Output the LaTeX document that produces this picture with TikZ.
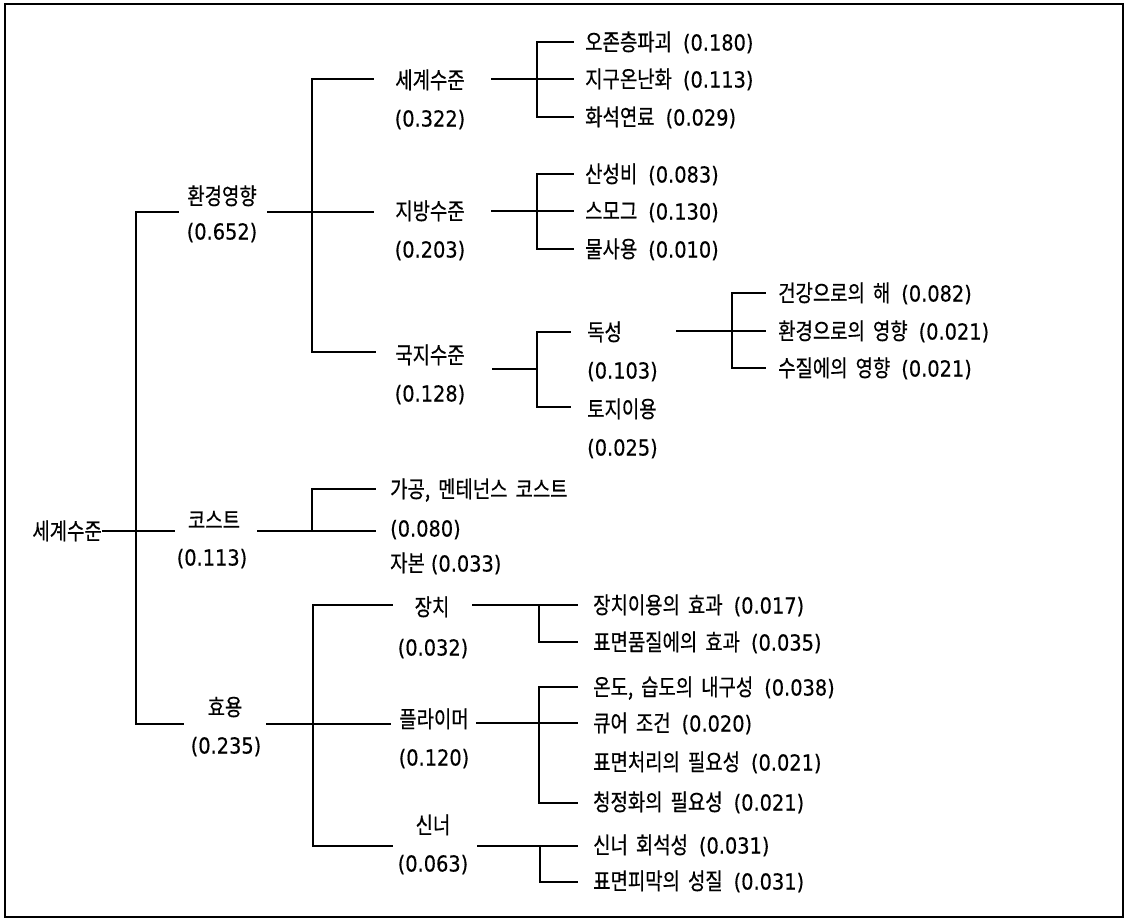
\documentclass[tikz,border=0pt]{standalone}
\usepackage{fontspec}
\setmainfont[FakeStretch=0.82,FakeBold=0.5]{Noto Sans CJK KR}
\newfontfamily\dvf[FakeStretch=0.88,FakeBold=0.3]{DejaVu Sans}
\newcommand\gp{\hspace{11pt}}
\newcommand\ws{\hspace{8pt}}
\newcommand\pv[1]{{\dvf\fontsize{22}{24}\selectfont(#1)}}
\begin{document}
\begin{tikzpicture}[x=1pt,y=-1pt,
  lbl/.style={inner sep=0pt, text height=20pt, text depth=3pt, font=\fontsize{23}{26}\selectfont},
  lw/.style={lbl, anchor=west},
  conn/.style={line width=1.2pt, line cap=rect},
  frame/.style={line width=2pt}]
\useasboundingbox (0,0) rectangle (1130,921);
\draw[frame] (5,4) rectangle (1123,917);

% ---------- level 0 / 1 ----------
\node[lbl, anchor=east] (root) at (102,531) {세계수준};
\node[lbl] (env)   at (222,196) {환경영향};
\node[lbl] (envv)  at (222,231) {\pv{0.652}};
\node[lbl] (cost)  at (214,520) {코스트};
\node[lbl] (costv) at (212,557) {\pv{0.113}};
\node[lbl] (util)  at (225,707) {효용};
\node[lbl] (utilv) at (226,745) {\pv{0.235}};

% ---------- level 2 ----------
\node[lbl] (gw)   at (430,80)  {세계수준};
\node[lbl] (gwv)  at (430,118) {\pv{0.322}};
\node[lbl] (rg)   at (430,211) {지방수준};
\node[lbl] (rgv)  at (430,249) {\pv{0.203}};
\node[lbl] (lc)   at (430,355) {국지수준};
\node[lbl] (lcv)  at (430,393) {\pv{0.128}};
\node[lw]  (mc)   at (390,489) {가공,\ws 멘테넌스\ws 코스트};
\node[lw]  (mcv)  at (390,528) {\pv{0.080}};
\node[lw]  (cap)  at (390,563) {자본\hspace{6pt}\pv{0.033}};
\node[lbl] (dev)  at (432,607) {장치};
\node[lbl] (devv) at (433,647) {\pv{0.032}};
\node[lbl] (pr)   at (434,719) {플라이머};
\node[lbl] (prv)  at (434,757) {\pv{0.120}};
\node[lbl] (th)   at (433,825) {신너};
\node[lbl] (thv)  at (433,863) {\pv{0.063}};

% ---------- level 3 ----------
\node[lw] (a1) at (585,42)  {오존층파괴\gp\pv{0.180}};
\node[lw] (a2) at (585,79)  {지구온난화\gp\pv{0.113}};
\node[lw] (a3) at (585,117) {화석연료\gp\pv{0.029}};
\node[lw] (b1) at (585,174) {산성비\gp\pv{0.083}};
\node[lw] (b2) at (585,211) {스모그\gp\pv{0.130}};
\node[lw] (b3) at (585,249) {물사용\gp\pv{0.010}};
\node[lw] (tx)  at (587,332) {독성};
\node[lw] (txv) at (587,370) {\pv{0.103}};
\node[lw] (lu)  at (587,409) {토지이용};
\node[lw] (luv) at (587,447) {\pv{0.025}};
\node[lw] (d1) at (593,605) {장치이용의\ws 효과\gp\pv{0.017}};
\node[lw] (d2) at (593,642) {표면품질에의\ws 효과\gp\pv{0.035}};
\node[lw] (p1) at (593,687) {온도,\ws 습도의\ws 내구성\gp\pv{0.038}};
\node[lw] (p2) at (593,723) {큐어\ws 조건\gp\pv{0.020}};
\node[lw] (p3) at (593,762) {표면처리의\ws 필요성\gp\pv{0.021}};
\node[lw] (p4) at (593,802) {청정화의\ws 필요성\gp\pv{0.021}};
\node[lw] (t1) at (593,845) {신너\ws 회석성\gp\pv{0.031}};
\node[lw] (t2) at (593,881) {표면피막의\ws 성질\gp\pv{0.031}};

% ---------- level 4 ----------
\node[lw] (x1) at (778,293) {건강으로의\ws 해\gp\pv{0.082}};
\node[lw] (x2) at (778,331) {환경으로의\ws 영향\gp\pv{0.021}};
\node[lw] (x3) at (778,368) {수질에의\ws 영향\gp\pv{0.021}};

% ---------- connector points ----------
\coordinate (rootE) at (174,531);
\coordinate (rbT) at (178,212);
\coordinate (rbB) at (136,724);
\coordinate (rbBE) at (183,724);
\coordinate (envS) at (268,212);
\coordinate (envE) at (373,212);
\coordinate (gwL) at (373,79);
\coordinate (ebB) at (312,352);
\coordinate (lcL) at (375,352);
\coordinate (costS) at (258,531);
\coordinate (costE) at (375,531);
\coordinate (mcL) at (375,489);
\coordinate (cbB) at (312,531);
\coordinate (utilS) at (267,724);
\coordinate (utilE) at (390,724);
\coordinate (devL) at (392,605);
\coordinate (ubB) at (313,846);
\coordinate (thL) at (392,846);

\coordinate (gwS) at (492,79);  \coordinate (a2L) at (573,79);
\coordinate (a1L) at (573,42);  \coordinate (gbB) at (537,117); \coordinate (a3L) at (573,117);
\coordinate (rgS) at (492,211); \coordinate (b2L) at (573,211);
\coordinate (b1L) at (573,174); \coordinate (rbB2) at (537,249); \coordinate (b3L) at (573,249);
\coordinate (lcS) at (493,369); \coordinate (lbM) at (537,369);
\coordinate (txL) at (570,332); \coordinate (lbB) at (537,407); \coordinate (luL) at (570,407);
\coordinate (devS) at (473,605); \coordinate (d1L) at (577,605);
\coordinate (dbT) at (539,605); \coordinate (d2L) at (577,642);
\coordinate (prS) at (477,723); \coordinate (p2L) at (577,723);
\coordinate (p1L) at (577,687); \coordinate (pbB) at (539,803); \coordinate (p4L) at (577,803);
\coordinate (thS) at (478,846); \coordinate (t1L) at (577,846);
\coordinate (tbT) at (540,846); \coordinate (t2L) at (577,882);
\coordinate (txS) at (677,331); \coordinate (x2L) at (765,331);
\coordinate (x1L) at (765,293); \coordinate (xbB) at (732,368); \coordinate (x3L) at (765,368);

% ---------- connectors ----------
\draw[conn] ([xshift=1pt]root.east) -- (rootE);
\draw[conn] (rbT) -| (rbB) -- (rbBE);
\draw[conn] (envS) -- (envE);
\draw[conn] (gwL) -| (ebB) -- (lcL);
\draw[conn] (costS) -- (costE);
\draw[conn] (mcL) -| (cbB);
\draw[conn] (utilS) -- (utilE);
\draw[conn] (devL) -| (ubB) -- (thL);

\draw[conn] (gwS) -- (a2L);
\draw[conn] (a1L) -| (gbB) -- (a3L);
\draw[conn] (rgS) -- (b2L);
\draw[conn] (b1L) -| (rbB2) -- (b3L);
\draw[conn] (lcS) -- (lbM);
\draw[conn] (txL) -| (lbB) -- (luL);
\draw[conn] (devS) -- (d1L);
\draw[conn] (dbT) |- (d2L);
\draw[conn] (prS) -- (p2L);
\draw[conn] (p1L) -| (pbB) -- (p4L);
\draw[conn] (thS) -- (t1L);
\draw[conn] (tbT) |- (t2L);
\draw[conn] (txS) -- (x2L);
\draw[conn] (x1L) -| (xbB) -- (x3L);
\end{tikzpicture}
\end{document}
